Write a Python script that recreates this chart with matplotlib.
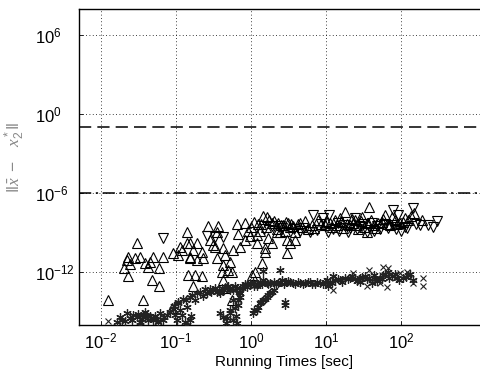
import numpy as np
import matplotlib.pyplot as plt
from matplotlib.ticker import FixedLocator, LogFormatterSciNotation, NullLocator

plt.rcParams.update({'font.family': 'Liberation Sans', 'font.size': 11,
                     'mathtext.fontset': 'custom', 'mathtext.rm': 'Liberation Sans',
                     'mathtext.it': 'Liberation Serif:italic', 'mathtext.default': 'regular'})

# running time [sec] and error
up_t = [0.0124, 0.036, 0.030, 0.023, 0.033, 0.049, 0.067, 0.022, 0.024, 0.020, 0.039, 0.042, 0.059,
        0.023, 0.048, 0.059, 0.028, 0.045,
        0.14, 0.14, 0.113, 0.091, 0.154, 0.145, 0.18, 0.17, 0.088, 0.154, 0.19, 0.22, 0.23, 0.154,
        0.19, 0.12, 0.106, 0.17,
        0.27, 0.36, 0.65, 0.83, 0.35, 0.33, 0.42, 0.58, 0.71, 0.45, 0.35, 0.52, 0.42, 0.49, 0.56,
        0.41, 0.22, 0.42, 0.45, 0.56, 0.31, 0.28,
        1.45, 1.63, 1.2, 1.32, 1.2, 1.54, 1.54, 1.4, 1.13, 1.03, 3.0, 2.44, 3.0, 1.69, 1.9, 2.2,
        1.24, 1.9, 2.3, 2.7, 3.1, 3.6, 4.2, 2.8, 3.9, 4.5, 0.91, 0.83, 0.97, 0.67,
        38, 18, 3.9, 3.3, 35, 150, 190, 7.8, 11.3, 15.4, 24, 30, 49, 61, 83, 113, 21, 9.7, 5.7,
        27, 71, 97,
        3.4, 4.8, 5.2, 6.5, 7.0, 8.5, 10, 12, 13, 14, 16, 17, 19, 22, 23, 26, 29, 32, 36, 40, 44,
        47, 55, 58, 65, 75, 88, 105, 125, 135,
        1.0, 1.1, 1.35, 1.6, 2.0, 2.5, 2.9, 3.3, 1.75, 2.2]
up_err = [7.6e-15, 7.6e-15, 1.6e-10, 1.4e-11, 1.4e-11, 1.4e-11, 1.4e-11, 8e-12, 4e-12, 2e-12, 5e-12,
          2.4e-12, 2e-12, 5e-13, 2.5e-13, 8.7e-14, 1.2e-11, 5.8e-12,
          1.1e-9, 1.6e-10, 8e-11, 2.8e-11, 1.4e-11, 6e-13, 6e-13, 1e-13, 1.9e-15, 1.6e-10, 1.6e-10,
          3.3e-11, 1.2e-11, 1.2e-11, 8e-12, 4.7e-11, 2e-11, 4.7e-11,
          3.2e-9, 3.2e-9, 4.5e-9, 5.2e-9, 1.1e-9, 8e-11, 6.8e-11, 4.7e-11, 8e-11, 2e-11, 1.2e-11,
          5.8e-12, 3.4e-12, 1.4e-12, 1e-12, 1e-12, 5e-13, 2.5e-13, 6e-14, 7.6e-15, 1.1e-10, 2.7e-10,
          1.8e-8, 1.5e-8, 6.5e-10, 1.5e-9, 1.6e-10, 6.8e-11, 3.3e-11, 4.9e-12, 1e-12, 6e-13, 2.8e-11,
          1.1e-9, 2.7e-10, 3.8e-10, 1.6e-10, 1.1e-9, 4.5e-9, 6e-9, 5.2e-9, 3.7e-9, 6e-9, 3.2e-9,
          4.5e-9, 1.5e-9, 1.1e-9, 6e-9, 1.5e-9, 2.7e-10, 5.5e-10, 8e-10,
          8.7e-8, 3.6e-8, 2.7e-10, 1.6e-10, 1.1e-9, 3e-8, 9e-9, 9e-9, 6e-9, 1.3e-8, 9e-9, 1.5e-8,
          6e-9, 2.2e-8, 9e-9, 1.3e-8, 3.7e-9, 3.7e-9, 2.1e-9, 2.1e-9, 3.7e-9, 6e-9,
          5e-9, 3e-9, 8e-9, 4e-9, 2.5e-9, 5e-9, 8e-9, 3e-9, 1e-8, 4e-9, 7e-9, 2.5e-9, 5e-9, 1.2e-8,
          6e-9, 4e-9, 8e-9, 3e-9, 6e-9, 1e-8, 4e-9, 2.5e-9, 7e-9, 1.2e-8, 5e-9, 1.6e-8, 5e-9, 7e-9,
          1e-8, 2e-8,
          3e-9, 7e-9, 5e-9, 3e-9, 8e-9, 4e-9, 7e-9, 3e-9, 9e-9, 2e-9]

down_t = [0.067, 0.26, 0.33, 0.42, 6.7, 9.1, 6.1, 10.6, 19.7, 35, 78, 113, 265, 300, 145, 78, 4.5,
          14.5, 24, 41, 52, 180, 91, 28, 11, 2.4,
          5.0, 7.5, 8.7, 12.5, 15, 17.5, 21, 26, 31, 44, 48, 62, 68, 85, 100, 120, 160, 230,
          1.5, 2.6, 3.8, 1.9]
down_err = [3.8e-10, 5.5e-10, 4.5e-10, 4.5e-10, 2.2e-8, 1.3e-8, 1.1e-9, 1.1e-9, 1.1e-9, 1.1e-9,
            3.7e-9, 2.7e-9, 2.7e-9, 7.6e-9, 7.3e-8, 5e-8, 1.5e-9, 6e-9, 1.3e-8, 6e-9, 2.1e-9,
            3.7e-9, 2.2e-8, 3.2e-9, 2.2e-8, 3.2e-9,
            2.5e-9, 1.6e-9, 5e-9, 2e-9, 1.5e-9, 4e-9, 2.5e-9, 1.8e-9, 5e-9, 1.5e-9, 3.5e-9, 4.5e-9,
            2.2e-9, 1.8e-9, 1.4e-9, 2.5e-9, 5e-9, 4e-9,
            2e-9, 2.2e-9, 2e-9, 3.5e-9]

star_t = [0.0163, 0.019, 0.022, 0.024, 0.027, 0.030, 0.033, 0.036, 0.039, 0.042, 0.045, 0.049, 0.056,
          0.061, 0.067, 0.033, 0.083, 0.097, 0.103, 0.113, 0.12, 0.14, 0.154, 0.14, 0.154, 0.18,
          0.21, 0.23, 0.26, 0.28, 0.31, 0.35, 0.39, 0.44, 0.48, 0.52, 0.58, 0.65, 0.71, 0.78, 0.88,
          0.97, 1.1, 1.2, 1.32, 1.45, 1.63, 1.8, 2.0, 2.3, 2.6, 2.9, 3.3, 3.9, 4.5, 5.3, 6.1, 7.1,
          8.3, 9.7, 11.3, 13.2, 15.4, 18, 21, 24, 28, 33, 38, 45, 52, 57, 67, 76, 88, 106, 124, 145,
          41, 28, 12.4, 10.6, 2.44, 1.45,
          0.39, 0.42, 0.48, 0.52, 0.58, 0.65, 0.46, 0.52, 0.58, 0.71, 0.67, 0.61, 1.06, 1.2, 1.32,
          1.45, 1.63, 1.8, 2.0, 2.84, 2.84, 0.16, 0.13, 0.107,
          0.095, 0.105, 0.125, 0.135, 0.165, 0.19, 0.245, 0.29, 0.33, 0.37, 0.41, 0.5, 0.55, 0.62,
          0.75, 0.82, 0.92, 1.05, 1.25, 1.4, 1.55, 1.7, 2.15, 2.45, 2.75, 3.1, 3.6, 4.2, 4.9, 5.7,
          6.6, 7.7, 9.0, 10.4, 12, 14.3, 16.5, 19.5, 22.5, 26, 30, 35, 43, 48, 55, 62, 70, 82, 95,
          115, 133,
          0.018, 0.021, 0.026, 0.031, 0.035, 0.041, 0.047, 0.053, 0.058, 0.07, 0.075, 0.09,
          0.63, 0.68, 0.70, 1.1, 1.25, 1.38, 1.55, 1.7, 1.9]
star_err = [1.6e-16, 2.3e-16, 7.8e-16, 3.2e-16, 5.5e-16, 3.9e-16, 1.6e-16, 5.5e-16, 9.3e-16, 2.3e-16,
            4.5e-16, 2.3e-16, 2.8e-16, 7.8e-16, 2.3e-16, 1e-16, 9.3e-16, 5.5e-16, 2.3e-16, 1.3e-15,
            5.5e-16, 2.2e-15, 2.3e-16, 1e-16, 1.3e-14, 7.6e-15, 3e-14, 1.6e-14, 2.6e-14, 5e-14,
            4.4e-14, 3e-14, 2.6e-14, 4.4e-14, 7.3e-14, 4.4e-14, 4.4e-14, 6e-14, 2.6e-14, 1e-13,
            7.3e-14, 1.5e-13, 1e-13, 1e-13, 1.7e-13, 2.5e-13, 1.5e-13, 1.5e-13, 2e-13, 1.5e-13,
            2.5e-13, 1.7e-13, 1.7e-13, 1.2e-13, 1.5e-13, 1.5e-13, 1.7e-13, 1.2e-13, 1.5e-13, 2e-13,
            1.7e-13, 2.5e-13, 2.5e-13, 3.5e-13, 4e-13, 3e-13, 3.5e-13, 5e-13, 4e-13, 3e-13, 3.5e-13,
            6e-13, 1e-12, 5e-13, 4e-13, 3.5e-13, 6e-13, 2.5e-13,
            1.5e-13, 1.7e-13, 5e-13, 9e-14, 1.4e-12, 1.2e-12,
            7.8e-16, 3.9e-16, 3.2e-16, 7.8e-16, 2.3e-16, 1.3e-16, 1.3e-16, 1.3e-15, 7.6e-15, 1.3e-14,
            3.2e-15, 1.9e-15, 7.8e-16, 1.3e-15, 4.5e-15, 7.6e-15, 1.3e-14, 2.6e-14, 4.4e-14, 5.4e-15,
            3.2e-15, 4.5e-16, 1.6e-16, 4.5e-15,
            3e-15, 6e-15, 1e-14, 8e-15, 2e-14, 2.5e-14, 5e-14, 3.5e-14, 6e-14, 4e-14, 6e-14, 9e-14,
            6e-14, 9e-14, 6e-14, 1.2e-13, 1.2e-13, 1.8e-13, 1.4e-13, 1.2e-13, 2e-13, 1.2e-13, 1.2e-13,
            1.8e-13, 1.3e-13, 2.2e-13, 1.5e-13, 1.8e-13, 1.2e-13, 2e-13, 1.4e-13, 1.8e-13, 1.2e-13,
            2.5e-13, 1.5e-13, 3e-13, 2e-13, 3e-13, 5e-13, 2.2e-13, 4.5e-13, 3e-13, 6e-13, 2.2e-13,
            3e-13, 7e-13, 3.5e-13, 7e-13, 2.8e-13, 4.5e-13, 7e-13,
            4e-16, 2e-16, 2.5e-16, 7e-16, 3e-16, 6e-16, 3.5e-16, 5e-16, 1.6e-16, 4e-16, 6e-16, 1.6e-15,
            5e-16, 8e-15, 3e-14, 1.5e-15, 2.5e-15, 6e-15, 1e-14, 2e-14, 3e-14]

x_t = [0.0124, 0.041, 12.4, 23, 28, 35, 42, 48, 57, 67, 65, 83, 97, 120, 145, 195, 195, 52, 38]
x_err = [1.9e-16, 3.2e-16, 4.4e-14, 8.5e-13, 2.5e-13, 1e-13, 4e-13, 3.5e-13, 2.4e-12, 2e-12, 7.3e-14,
         4e-13, 8.5e-13, 1e-12, 1.5e-13, 3.5e-13, 1e-13, 1.5e-13, 1.4e-12]

tol_upper = 1e-1
tol_lower = 1e-6

fig = plt.figure(figsize=(4.81, 3.79), dpi=100)
ax = fig.add_axes([79 / 481, 1 - 325 / 379, (490 - 79) / 481, (325 - 9) / 379])

ax.plot(up_t, up_err, '^', ms=7, mfc='none', mec='k', mew=0.8, zorder=3)
ax.plot(down_t, down_err, 'v', ms=7, mfc='none', mec='k', mew=0.8, zorder=3)
ax.plot(star_t, star_err, ls='none', marker=(6, 2, 0), ms=6, mec='#222222', mew=0.9, zorder=4)
ax.plot(x_t, x_err, 'x', ms=5, mec='#222222', mew=0.8, zorder=4)

ax.axhline(tol_upper, color='k', lw=1.1, dashes=(8, 4))
ax.axhline(tol_lower, color='k', lw=1.1, dashes=(8, 3, 1.5, 3))

ax.set_xscale('log')
ax.set_yscale('log')
ax.set_xlim(10 ** ((79 - 251) / 75), 10 ** ((490 - 251) / 75))
ax.set_ylim(1e-16, 1e8)
ax.xaxis.set_major_locator(FixedLocator([1e-2, 1e-1, 1e0, 1e1, 1e2]))
ax.yaxis.set_major_locator(FixedLocator([1e-12, 1e-6, 1e0, 1e6]))
ax.xaxis.set_major_formatter(LogFormatterSciNotation())
ax.yaxis.set_major_formatter(LogFormatterSciNotation())
ax.xaxis.set_minor_locator(NullLocator())
ax.yaxis.set_minor_locator(NullLocator())
ax.tick_params(direction='in', length=3, width=0.6, labelsize=12)
ax.tick_params(axis='x', pad=5)
ax.tick_params(axis='y', pad=31.5)
for lbl in ax.get_yticklabels():
    lbl.set_ha('left')
ax.grid(True, color='k', ls=(0, (1, 3)), lw=0.6)
for s in ax.spines.values():
    s.set_linewidth(1.0)

ax.set_xlabel('Running Times [sec]', fontsize=11, labelpad=2)
ax.set_ylabel(r'$\|\bar{\mathit{x}}\ -\quad \mathit{x}^*_2\|$', fontsize=12.5, color='#888888')
ax.yaxis.set_label_coords(-0.127, 0.53)

plt.savefig('out.png', dpi=100)
